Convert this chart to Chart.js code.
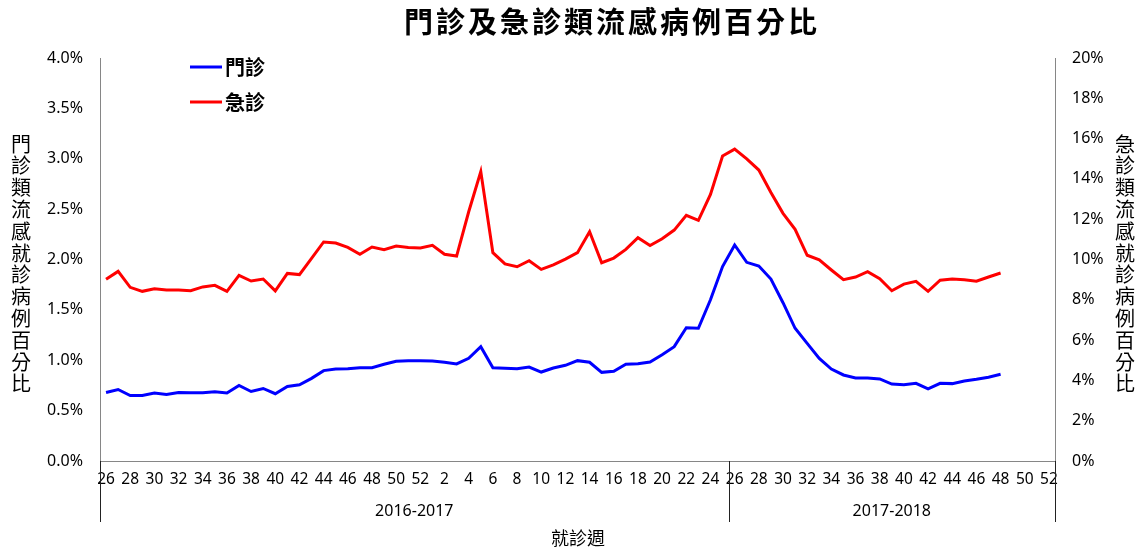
<!DOCTYPE html>
<html>
<head>
<meta charset="utf-8">
<script src="https://cdn.jsdelivr.net/npm/chart.js@4.4.1/dist/chart.umd.min.js"></script>
<style>
  body { margin: 0; background: #fff; }
  #wrap { width: 1143px; height: 549px; }
</style>
</head>
<body>
<div id="wrap"><canvas id="fluChart" width="1143" height="549"></canvas></div>
<script>
// weeks: 2016-2017 season (26..52, 1..25), then 2017-2018 (26..52)
const weeks = [
  26, 27, 28, 29, 30, 31, 32, 33, 34, 35, 36, 37, 38, 39, 40, 41, 42, 43, 44, 45, 46, 47, 48, 49, 50, 51, 52,
  1, 2, 3, 4, 5, 6, 7, 8, 9, 10, 11, 12, 13, 14, 15, 16, 17, 18, 19, 20, 21, 22, 23, 24, 25,
  26, 27, 28, 29, 30, 31, 32, 33, 34, 35, 36, 37, 38, 39, 40, 41, 42, 43, 44, 45, 46, 47, 48, 49, 50, 51, 52
];
const seasons = ['2016-2017', '2017-2018'];
const seasonWeeks = [52, 27];

// 門診 (left axis, %)
const outpatient = [
  0.68, 0.71, 0.65, 0.65, 0.675, 0.66, 0.68, 0.678, 0.678, 0.688, 0.675, 0.75, 0.69, 0.72, 0.668, 0.74, 0.757, 0.82, 0.897, 0.913, 0.916, 0.926, 0.926, 0.96, 0.99, 0.996, 0.996,
  0.993, 0.98, 0.963, 1.02, 1.135, 0.926, 0.92, 0.916, 0.933, 0.883, 0.923, 0.95, 0.996, 0.98, 0.88, 0.89, 0.96, 0.966, 0.983, 1.055, 1.135, 1.323, 1.317, 1.6, 1.93,
  2.144, 1.972, 1.935, 1.806, 1.571, 1.317, 1.168, 1.019, 0.913, 0.854, 0.824, 0.824, 0.814, 0.764, 0.757, 0.771, 0.715, 0.771, 0.768, 0.794, 0.811, 0.831, 0.861, null, null, null, null
];
// 急診 (right axis, %)
const emergency = [
  9.02, 9.41, 8.62, 8.42, 8.55, 8.49, 8.49, 8.45, 8.64, 8.72, 8.42, 9.21, 8.93, 9.03, 8.44, 9.31, 9.25, 10.06, 10.87, 10.82, 10.6, 10.26, 10.62, 10.49, 10.67, 10.59, 10.57,
  10.7, 10.26, 10.17, 12.37, 14.36, 10.34, 9.78, 9.64, 9.94, 9.51, 9.73, 10.02, 10.34, 11.38, 9.84, 10.07, 10.5, 11.08, 10.69, 11.03, 11.46, 12.19, 11.94, 13.23, 15.14,
  15.48, 14.99, 14.44, 13.33, 12.29, 11.5, 10.21, 9.98, 9.48, 9.0, 9.13, 9.4, 9.05, 8.45, 8.78, 8.92, 8.42, 8.97, 9.03, 9.0, 8.92, 9.13, 9.33, null, null, null, null
];

const numFont = '"Noto Sans", sans-serif';
const cjkFont = '"Noto Sans CJK TC", "Noto Sans CJK SC", sans-serif';

const extras = {
  id: 'extras',
  afterDraw(chart) {
    const ctx = chart.ctx;
    const x = chart.scales.x;
    const area = chart.chartArea;
    ctx.save();

    // title
    ctx.fillStyle = '#000';
    ctx.font = 'bold 29px ' + cjkFont;
    ctx.letterSpacing = '3px';
    ctx.textAlign = 'center';
    ctx.textBaseline = 'middle';
    ctx.fillText('門診及急診類流感病例百分比', 612, 22);
    ctx.letterSpacing = '0px';

    // vertical axis titles, stacked characters
    ctx.font = '20px ' + cjkFont;
    const stack = (txt, cx) => {
      const chars = Array.from(txt);
      const step = 21.8;
      const y0 = 264 - step * (chars.length - 1) / 2;
      chars.forEach((c, i) => ctx.fillText(c, cx, y0 + i * step));
    };
    stack('門診類流感就診病例百分比', 21);
    stack('急診類流感就診病例百分比', 1125);

    // season groups under the week ticks
    ctx.strokeStyle = '#222';
    ctx.lineWidth = 1;
    ctx.font = '16px ' + numFont;
    let start = 0;
    const edge = i => i <= 0 ? x.left : (i >= weeks.length ? x.right
      : (x.getPixelForValue(i - 1) + x.getPixelForValue(i)) / 2);
    const drawDiv = px => {
      ctx.beginPath();
      ctx.moveTo(Math.round(px) + 0.5, area.bottom);
      ctx.lineTo(Math.round(px) + 0.5, area.bottom + 61);
      ctx.stroke();
    };
    drawDiv(edge(0));
    seasons.forEach((s, k) => {
      const end = start + seasonWeeks[k];
      const l = edge(start), r = edge(end);
      drawDiv(r);
      ctx.fillText(s, (l + r) / 2, area.bottom + 50);
      start = end;
    });

    // x axis title
    ctx.font = '18px ' + cjkFont;
    ctx.fillText('就診週', 578, 538);

    // legend
    const items = [['門診', '#0000ff', 67], ['急診', '#ff0000', 102]];
    ctx.font = 'bold 20px ' + cjkFont;
    ctx.textAlign = 'left';
    items.forEach(([label, color, y]) => {
      ctx.strokeStyle = color;
      ctx.lineWidth = 3;
      ctx.beginPath();
      ctx.moveTo(190, y);
      ctx.lineTo(222, y);
      ctx.stroke();
      ctx.fillStyle = '#000';
      ctx.fillText(label, 225, y);
    });
    ctx.restore();
  }
};

const ctx = document.getElementById('fluChart').getContext('2d');
new Chart(ctx, {
  type: 'line',
  data: {
    labels: weeks,
    datasets: [{
      label: '門診',
      data: outpatient,
      yAxisID: 'y',
      borderColor: '#0000ff',
      borderWidth: 3,
      pointRadius: 0,
      tension: 0,
      fill: false
    }, {
      label: '急診',
      data: emergency,
      yAxisID: 'y2',
      borderColor: '#ff0000',
      borderWidth: 3,
      pointRadius: 0,
      tension: 0,
      fill: false
    }]
  },
  options: {
    responsive: false,
    animation: false,
    layout: { padding: { top: 58, left: 0, right: 0, bottom: 0 } },
    plugins: {
      legend: { display: false },
      title: { display: false },
      tooltip: { enabled: false }
    },
    scales: {
      x: {
        offset: true,
        grid: { display: false, drawTicks: false },
        border: { color: '#868686', width: 1 },
        ticks: {
          autoSkip: false,
          maxRotation: 0,
          minRotation: 0,
          padding: 9,
          color: '#000',
          font: { family: numFont, size: 15.5 },
          callback: function(v, i) {
            return weeks[i] % 2 === 0 ? String(weeks[i]) : '';
          }
        },
        afterFit: s => { s.height = 88; }
      },
      y: {
        position: 'left',
        min: 0,
        max: 4,
        grid: { display: false, drawTicks: false },
        border: { color: '#868686', width: 1 },
        ticks: {
          stepSize: 0.5,
          padding: 17,
          color: '#000',
          font: { family: numFont, size: 16 },
          callback: v => v.toFixed(1) + '%'
        },
        afterFit: s => { s.width = 100; }
      },
      y2: {
        position: 'right',
        min: 0,
        max: 20,
        grid: { display: false, drawTicks: false },
        border: { color: '#868686', width: 1 },
        ticks: {
          stepSize: 2,
          padding: 17,
          color: '#000',
          font: { family: numFont, size: 16 },
          callback: v => v + '%'
        },
        afterFit: s => { s.width = 88; }
      }
    }
  },
  plugins: [extras]
});
</script>
</body>
</html>
